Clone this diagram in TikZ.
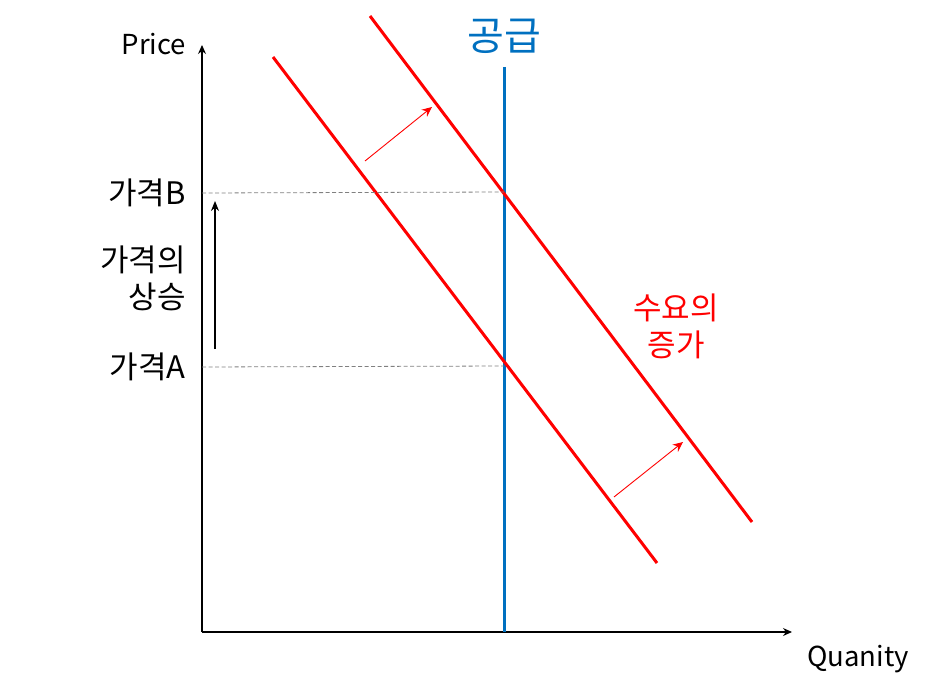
\documentclass[tikz,border=0pt]{standalone}
\usepackage{fontspec}
\setmainfont{Noto Sans CJK KR}
\usetikzlibrary{arrows.meta}
\definecolor{supblue}{RGB}{0,112,192}
\definecolor{demred}{RGB}{255,0,0}
\tikzset{
  axis/.style={line width=1.2pt,-{Stealth[length=9pt,width=8pt]}},
  demand/.style={demred,line width=3pt},
  supply/.style={supblue,line width=3pt},
  guide/.style={gray,line width=0.8pt,dash pattern=on 4pt off 2.5pt},
  shiftarrow/.style={demred,line width=0.9pt,-{Stealth[length=10pt,width=9pt]}},
  rise/.style={black,line width=1.2pt,-{Stealth[length=10pt,width=8pt]}},
  lbl/.style={font=\fontsize{31}{37}\selectfont,inner sep=0pt},
  latlbl/.style={font=\fontsize{27.5}{33}\selectfont,inner sep=0pt},
}
\begin{document}
\begin{tikzpicture}[x=1pt,y=-1pt]
\useasboundingbox (0,0) rectangle (940,693);
% axes
\coordinate (o) at (202,632);
\coordinate (ytop) at (202,45);
\coordinate (xend) at (792,632);
\draw[axis] (o) -- (ytop);
\draw[axis] (o) -- (xend);
\node[latlbl] (price) at (154,44) {Price};
\node[latlbl] (qty) at (858,659) {Quanity};
% supply
\coordinate (s1) at (504,67);
\coordinate (s0) at (504,632);
\draw[supply] (s1) -- (s0);
\node[lbl,supblue,font=\fontsize{40}{46}\selectfont] (sup) at (504,36) {공급};
% demand
\coordinate (d1a) at (273,57);
\coordinate (d1b) at (657,563);
\coordinate (d2a) at (370,16);
\coordinate (d2b) at (752,522);
\draw[demand] (d1a) -- (d1b);
\draw[demand] (d2a) -- (d2b);
% guides
\coordinate (gb0) at (202,193);
\coordinate (gb1) at (504,192);
\coordinate (ga0) at (202,367);
\coordinate (ga1) at (504,366);
\draw[guide] (gb0) -- (gb1);
\draw[guide] (ga0) -- (ga1);
\node[lbl,anchor=east] (pb) at (186,193) {가격B};
\node[lbl,anchor=east] (pa) at (186,367) {가격A};
\node[lbl,anchor=east,align=right] (up) at (186,278) {가격의\\상승};
% rise arrow
\coordinate (r0) at (215,349);
\coordinate (r1) at (215,201);
\draw[rise] (r0) -- (r1);
% shift arrows
\coordinate (a0) at (365,161);
\coordinate (a1) at (432,107);
\coordinate (b0) at (614,497);
\coordinate (b1) at (683,442);
\draw[shiftarrow] (a0) -- (a1);
\draw[shiftarrow] (b0) -- (b1);
\node[lbl,demred,align=center] (inc) at (676,326) {수요의\\증가};
\end{tikzpicture}
\end{document}
